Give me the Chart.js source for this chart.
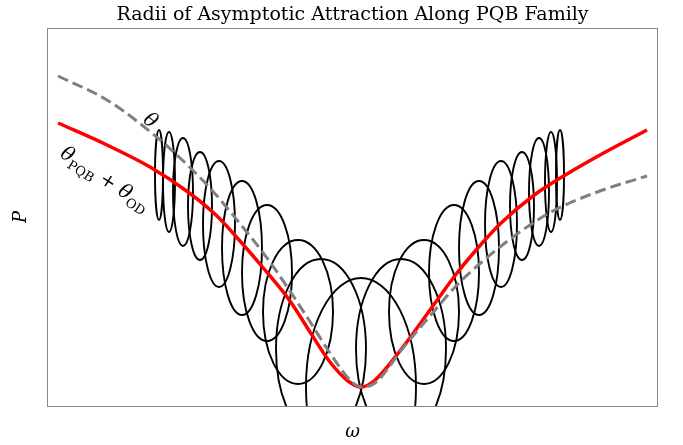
<!DOCTYPE html>
<html>
<head>
<meta charset="utf-8">
<script src="https://cdn.jsdelivr.net/npm/chart.js@4.4.1/dist/chart.umd.min.js"></script>
<style>
  html, body { margin: 0; padding: 0; background: #fff; }
  canvas { display: block; }
</style>
</head>
<body>
<canvas id="pqbChart" width="683" height="445"></canvas>
<script>
// theta_PQB + theta_OD (red)
const omegaSum = [-3.03, -2.54, -2.11, -1.73, -1.44, -1.21, -0.96, -0.71, -0.51, -0.31, -0.13, 0, 0.13, 0.42, 0.69, 0.96, 1.16, 1.39, 1.72, 2.06, 2.39, 2.86];
const thetaSum = [2.83, 2.61, 2.39, 2.14, 1.90, 1.65, 1.36, 1.05, 0.74, 0.44, 0.25, 0.19, 0.25, 0.59, 0.96, 1.33, 1.57, 1.82, 2.10, 2.32, 2.51, 2.76];

// theta (grey dashed)
const omegaTheta = [-3.03, -2.54, -2.08, -1.82, -1.51, -1.24, -0.91, -0.54, -0.31, -0.11, 0, 0.14, 0.42, 0.69, 0.96, 1.22, 1.56, 1.92, 2.39, 2.86];
const theta = [3.30, 3.06, 2.72, 2.49, 2.18, 1.86, 1.44, 0.89, 0.53, 0.26, 0.19, 0.23, 0.58, 0.90, 1.21, 1.45, 1.72, 1.95, 2.15, 2.30];

// radii of attraction: centres and half-widths
const ellipseW = [-2.02, -1.92, -1.78, -1.61, -1.42, -1.19, -0.94, -0.63, -0.40, 0, 0.40, 0.63, 0.93, 1.18, 1.40, 1.61, 1.78, 1.90, 1.99];
const ellipseP = [2.31, 2.24, 2.14, 2.00, 1.82, 1.58, 1.33, 0.94, 0.57, 0.19, 0.57, 0.94, 1.33, 1.58, 1.82, 2.00, 2.14, 2.24, 2.31];
const radiusW = [0.04, 0.06, 0.10, 0.12, 0.16, 0.20, 0.25, 0.35, 0.45, 0.55, 0.45, 0.35, 0.25, 0.20, 0.16, 0.12, 0.10, 0.06, 0.04];
const radiusP = [0.45, 0.50, 0.54, 0.54, 0.63, 0.67, 0.68, 0.72, 0.90, 1.09, 0.90, 0.72, 0.68, 0.67, 0.63, 0.54, 0.54, 0.50, 0.45];

const titleText = 'Radii of Asymptotic Attraction Along PQB Family';
const xLabel = 'ω';
const yLabel = 'P';

const toPoints = (xs, ys) => xs.map((v, i) => ({ x: v, y: ys[i] }));

const ellipses = {
    id: 'ellipses',
    beforeDatasetsDraw(chart) {
        const { ctx, chartArea: a, scales: { x, y } } = chart;
        ctx.save();
        ctx.beginPath();
        ctx.rect(a.left, a.top, a.width, a.height);
        ctx.clip();
        ctx.strokeStyle = '#000';
        ctx.lineWidth = 1.9;
        ellipseW.forEach((w, i) => {
            const cx = x.getPixelForValue(w);
            const cy = y.getPixelForValue(ellipseP[i]);
            const rx = Math.abs(x.getPixelForValue(w + radiusW[i]) - cx);
            const ry = Math.abs(y.getPixelForValue(ellipseP[i] + radiusP[i]) - cy);
            ctx.beginPath();
            ctx.ellipse(cx, cy, rx, ry, 0, 0, Math.PI * 2);
            ctx.stroke();
        });
        ctx.restore();
    }
};

const decorations = {
    id: 'decorations',
    afterDraw(chart) {
        const { ctx, chartArea: a, scales: { x, y } } = chart;
        ctx.save();
        // frame
        ctx.strokeStyle = '#888';
        ctx.lineWidth = 1;
        ctx.strokeRect(a.left + 0.5, a.top + 0.5, a.width - 1, a.height);

        ctx.fillStyle = '#000';
        ctx.textAlign = 'center';
        ctx.textBaseline = 'alphabetic';
        ctx.font = '19px "DejaVu Serif"';
        ctx.fillText(titleText, (a.left + a.right) / 2, 20);

        ctx.font = 'italic 18px "DejaVu Serif"';
        ctx.textBaseline = 'middle';
        ctx.fillText(xLabel, (a.left + a.right) / 2, 432);
        ctx.save();
        ctx.translate(21, (a.top + a.bottom) / 2);
        ctx.rotate(-Math.PI / 2);
        ctx.fillText(yLabel, 0, 0);
        ctx.restore();

        // curve labels
        ctx.save();
        ctx.translate(x.getPixelForValue(-2.11), y.getPixelForValue(2.85));
        ctx.rotate(38 * Math.PI / 180);
        ctx.font = 'italic 20px "DejaVu Serif"';
        ctx.fillText('θ', 0, 0);
        ctx.restore();

        const parts = [
            { t: 'θ', f: 'italic 20px "DejaVu Serif"', dy: 0 },
            { t: 'PQB', f: '13px "DejaVu Serif"', dy: 5 },
            { t: ' + ', f: '19px "DejaVu Serif"', dy: 0 },
            { t: 'θ', f: 'italic 20px "DejaVu Serif"', dy: 0 },
            { t: 'OD', f: '13px "DejaVu Serif"', dy: 5 }
        ];
        let total = 0;
        parts.forEach(p => { ctx.font = p.f; p.w = ctx.measureText(p.t).width; total += p.w; });
        ctx.save();
        ctx.translate(x.getPixelForValue(-2.56), y.getPixelForValue(2.27));
        ctx.rotate(33 * Math.PI / 180);
        ctx.textAlign = 'left';
        ctx.textBaseline = 'alphabetic';
        let cur = -total / 2;
        parts.forEach(p => {
            ctx.font = p.f;
            ctx.fillText(p.t, cur, 6 + p.dy);
            cur += p.w;
        });
        ctx.restore();
        ctx.restore();
    }
};

const ctx = document.getElementById('pqbChart').getContext('2d');
new Chart(ctx, {
    type: 'line',
    data: {
        datasets: [
            {
                label: 'θ',
                data: toPoints(omegaTheta, theta),
                borderColor: '#808080',
                borderWidth: 3,
                borderDash: [11, 5],
                pointRadius: 0,
                cubicInterpolationMode: 'monotone',
                order: 0
            },
            {
                label: 'θPQB + θOD',
                data: toPoints(omegaSum, thetaSum),
                borderColor: '#ff0000',
                borderWidth: 3.5,
                pointRadius: 0,
                cubicInterpolationMode: 'monotone',
                order: 1
            }
        ]
    },
    options: {
        responsive: false,
        animation: false,
        devicePixelRatio: 1,
        layout: { padding: { left: 47, right: 25, top: 28, bottom: 39 } },
        scales: {
            x: { type: 'linear', min: -3.14, max: 2.97, display: false },
            y: { type: 'linear', min: 0, max: 3.78, display: false }
        },
        plugins: {
            legend: { display: false },
            tooltip: { enabled: false }
        }
    },
    plugins: [ellipses, decorations]
});
</script>
</body>
</html>
